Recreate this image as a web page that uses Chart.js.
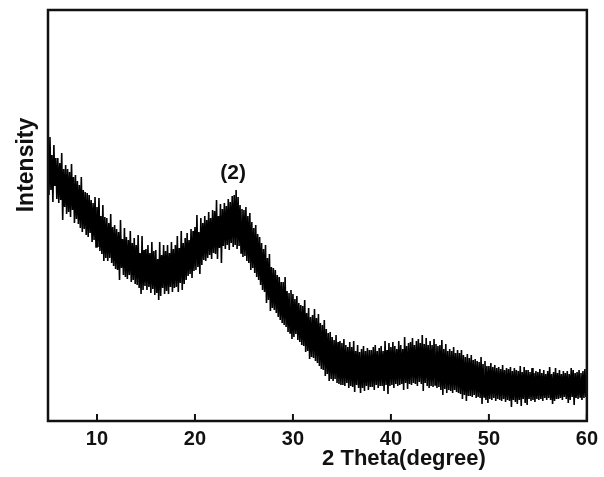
<!DOCTYPE html>
<html>
<head>
<meta charset="utf-8">
<script src="https://cdn.jsdelivr.net/npm/chart.js@4"></script>
<style>
  html, body { margin: 0; padding: 0; background: #fff; }
  #wrap { width: 604px; height: 477px; position: relative; }
</style>
</head>
<body>
<div id="wrap"><canvas id="xrd"></canvas></div>
<script>
// 2θ scan, 5° to 60°, step 0.1°
const thetaStart = 5;
const thetaStep = 0.1;
// intensity, one row per degree (5.0 .. 59.9) + 60.0
const intensity = [
  272,226,284,231,266,219,276,235,263,222,
  263,218,258,221,268,201,252,214,256,207,
  252,209,249,204,257,211,244,198,246,202,
  240,197,236,193,244,189,231,192,229,186,
  228,184,226,188,221,179,218,181,224,174,
  214,174,223,170,205,167,216,160,204,163,
  203,160,198,163,207,158,194,155,196,152,
  192,151,189,141,201,153,182,146,193,144,
  184,142,181,146,190,139,178,141,183,137,
  176,136,186,133,168,127,185,131,171,135,
  172,131,176,134,168,128,179,132,170,126,
  171,128,162,121,179,125,166,133,176,127,
  170,130,176,127,168,134,179,129,172,133,
  176,134,185,129,173,138,190,131,178,137,
  183,141,188,145,181,147,192,143,190,150,
  194,151,206,154,189,147,203,156,198,161,
  205,160,201,163,209,166,203,162,211,168,
  210,167,221,162,205,173,217,158,212,175,
  218,172,215,176,222,171,219,178,225,174,
  226,176,231,172,224,175,216,168,212,164,
  211,165,214,160,205,158,208,151,199,153,
  193,148,196,144,187,141,184,136,178,131,
  172,129,176,118,163,121,167,110,154,113,
  153,111,151,108,146,104,144,101,139,98,
  139,96,144,94,130,89,128,88,131,82,
  127,84,122,87,125,81,118,79,116,76,
  115,75,121,69,108,70,113,62,104,64,
  106,63,112,60,103,58,107,55,98,52,
  96,51,101,45,92,47,88,40,89,42,
  84,40,81,42,86,38,79,37,80,36,
  78,36,82,35,76,38,74,33,79,35,
  74,34,80,29,70,36,76,33,69,28,
  72,33,75,30,70,35,73,31,71,34,
  71,34,74,31,76,36,70,33,73,35,
  75,35,70,30,80,36,71,27,78,35,
  74,36,79,33,75,37,72,35,80,36,
  76,37,72,31,84,38,75,32,78,37,
  79,36,83,38,76,37,80,35,82,39,
  78,37,86,30,77,38,83,35,76,33,
  80,35,76,34,82,36,77,33,75,34,
  76,31,81,26,72,32,77,28,70,31,
  72,30,70,28,74,31,68,29,71,28,
  68,27,71,22,66,26,64,20,67,25,
  63,25,66,24,61,26,62,23,60,24,
  59,23,64,17,57,24,60,21,55,18,
  55,22,58,21,54,23,56,20,53,22,
  54,21,52,20,56,22,51,19,53,21,
  52,20,54,14,50,21,53,19,51,17,
  50,21,55,15,49,22,54,18,51,16,
  51,22,49,20,53,21,48,19,50,22,
  49,21,52,22,48,20,51,23,47,21,
  50,23,54,21,47,17,49,20,53,22,
  48,22,51,23,47,21,50,24,48,22,
  50,18,47,21,53,24,51,16,48,23,
  49,22,51,24,48,21,50,23,52,24,
  50
];
const tickValues = [10, 20, 30, 40, 50, 60];
const xTitle = '2 Theta(degree)';
const yTitle = 'Intensity';
const peakLabel = '(2)';
const peakPos = { x: 23.9, y: 248 };

const FONT = '"Liberation Sans", Arial, Helvetica, sans-serif';
const points = intensity.map((v, i) => ({ x: thetaStart + i * thetaStep, y: v }));

// frame, inward ticks, titles, peak label
const decor = {
  id: 'decor',
  afterDatasetsDraw(chart) {
    const { ctx, chartArea: a, scales: { x, y } } = chart;
    ctx.save();
    ctx.strokeStyle = '#111';
    ctx.lineWidth = 2.5;
    ctx.strokeRect(a.left, a.top, a.right - a.left, a.bottom - a.top);
    ctx.lineWidth = 2;
    tickValues.forEach((v) => {
      const px = x.getPixelForValue(v);
      ctx.beginPath();
      ctx.moveTo(px, a.bottom);
      ctx.lineTo(px, a.bottom - 7);
      ctx.stroke();
    });
    ctx.fillStyle = '#111';
    ctx.textAlign = 'center';
    ctx.textBaseline = 'middle';
    ctx.font = 'bold 22px ' + FONT;
    ctx.fillText(xTitle, 404, 459);
    ctx.font = 'bold 21px ' + FONT;
    ctx.fillText(peakLabel, x.getPixelForValue(peakPos.x), y.getPixelForValue(peakPos.y));
    ctx.translate(a.left - 21, a.top + 155);
    ctx.rotate(-Math.PI / 2);
    ctx.font = 'bold 23px ' + FONT;
    ctx.fillText(yTitle, 0, 0);
    ctx.restore();
  },
};

new Chart(document.getElementById('xrd'), {
  type: 'line',
  data: {
    datasets: [{
      data: points,
      borderColor: '#000',
      borderWidth: 1.6,
      pointRadius: 0,
      tension: 0,
      fill: false,
    }],
  },
  options: {
    responsive: true, maintainAspectRatio: false,
    animation: false,
    layout: { padding: { left: 48, top: 10, right: 15, bottom: 0 } },
    plugins: { legend: { display: false }, tooltip: { enabled: false } },
    scales: {
      x: {
        type: 'linear', min: 5, max: 60,
        afterBuildTicks: (s) => { s.ticks = tickValues.map((v) => ({ value: v })); },
        afterFit: (s) => { s.height = 56; },
        grid: { display: false, drawTicks: false },
        border: { display: false },
        ticks: { color: '#111', padding: 6, maxRotation: 0, font: { family: FONT, size: 20, weight: 'bold' } },
      },
      y: { display: false, min: 0, max: 411 },
    },
  },
  plugins: [decor],
});
</script>
</body>
</html>
